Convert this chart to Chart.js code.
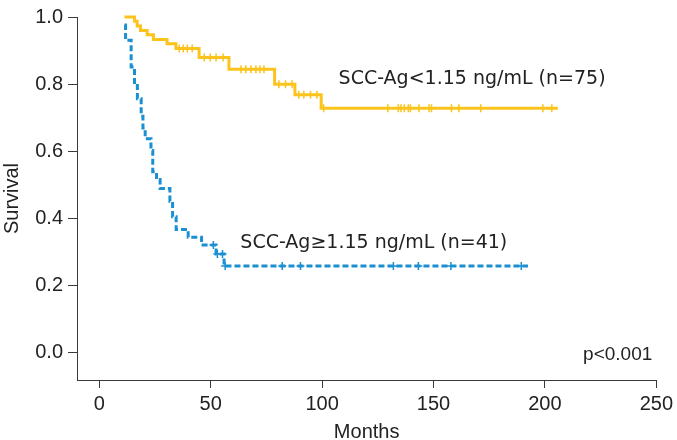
<!DOCTYPE html>
<html><head><meta charset="utf-8">
<script src="https://cdn.jsdelivr.net/npm/chart.js@4.4.1/dist/chart.umd.min.js"></script>
<style>html,body{margin:0;padding:0;background:#fff}#wrap{width:677px;height:440px}</style>
</head><body><div id="wrap"><canvas id="c" width="677" height="440"></canvas></div>
<script>
// Kaplan-Meier step data
const lowT  = [11.3, 15.8, 17.0, 18.5, 21.5, 24.3, 30.4, 34.4, 44.8, 58.2, 78.7, 87.8, 99.6, 205.8];
const lowS  = [1.0, 0.987, 0.973, 0.960, 0.947, 0.933, 0.920, 0.906, 0.879, 0.844, 0.799, 0.768, 0.728, 0.728];
const lowCensorT = [35.9, 37.7, 39.5, 41.7, 47.1, 49.8, 52.4, 55.6, 63.6, 65.8, 68.1, 70.3, 72.1, 73.9,
  80.6, 83.6, 86.5, 89.5, 91.8, 94.8, 97.7, 100.7, 129.5, 134.2, 135.4, 136.9, 138.7, 139.6, 143.5,
  148.0, 149.1, 158.1, 161.4, 171.2, 199.1, 203.1];
const highT = [11.3, 11.8, 14.3, 15.8, 17.1, 18.8, 19.6, 20.6, 23.2, 24.0, 25.7, 27.3, 31.7, 32.9, 34.5, 39.9, 45.9, 52.4, 56.0, 192.4];
const highS = [0.976, 0.931, 0.851, 0.800, 0.756, 0.704, 0.669, 0.637, 0.602, 0.538, 0.515, 0.488, 0.450, 0.404, 0.366, 0.343, 0.320, 0.293, 0.257, 0.257];
const highCensorT = [51.2, 53.0, 55.3, 56.5, 82.1, 90.3, 132.0, 143.2, 157.8, 189.4];
const xTicks = [0, 50, 100, 150, 200, 250];
const yTicks = [0.0, 0.2, 0.4, 0.6, 0.8, 1.0];
const labelLow = 'SCC-Ag<1.15 ng/mL (n=75)';
const labelHigh = 'SCC-Ag\u22651.15 ng/mL (n=41)';
const pText = 'p<0.001';

const YEL = '#FBC31B', BLU = '#1A8FD1', AX = '#3a3a3a';
function stepAt(T, S, t){ let v = S[0]; for (let i=0;i<T.length;i++){ if (T[i] <= t) v = S[i]; } return v; }
const pts = (T,S) => T.map((t,i)=>({x:t,y:S[i]}));
const cens = (C,T,S) => C.map(t=>({x:t,y:stepAt(T,S,t)}));

const annot = {
  id:'annot',
  afterDatasetsDraw(chart){
    const {ctx, scales:{x,y}} = chart;
    ctx.save();
    ctx.fillStyle = '#222';
    ctx.textBaseline = 'alphabetic';
    ctx.font = '19px "DejaVu Sans"';
    ctx.textAlign = 'left';
    ctx.fillText(labelLow, x.getPixelForValue(107.4), y.getPixelForValue(0.80));
    ctx.fillText(labelHigh, x.getPixelForValue(63.3), y.getPixelForValue(0.311));
    ctx.font = '19px "Liberation Sans"';
    ctx.textAlign = 'right';
    ctx.fillText(pText, x.getPixelForValue(248.2), y.getPixelForValue(-0.022));
    ctx.restore();
  }
};

new Chart(document.getElementById('c'), {
  type:'line',
  data:{datasets:[
    {data:pts(lowT,lowS), borderColor:YEL, borderWidth:3, stepped:'before', pointRadius:0, fill:false, clip:false},
    {data:cens(lowCensorT,lowT,lowS), showLine:false, pointStyle:'cross', pointRadius:4, borderColor:YEL, pointBorderWidth:1.5, clip:false},
    {data:pts(highT,highS), borderColor:BLU, borderWidth:3, borderDash:[6,3], stepped:'before', pointRadius:0, fill:false, clip:false},
    {data:cens(highCensorT,highT,highS), showLine:false, pointStyle:'cross', pointRadius:4, borderColor:BLU, pointBorderWidth:1.5, clip:false}
  ]},
  options:{
    responsive:false, animation:false, devicePixelRatio:1,
    layout:{padding:{top:8,right:18,left:0,bottom:0}},
    plugins:{legend:{display:false}, tooltip:{enabled:false}},
    scales:{
      x:{type:'linear', min:-10, max:250,
        afterBuildTicks(s){ s.ticks = xTicks.map(v=>({value:v})); },
        afterFit(s){ s.height = 60; },
        grid:{drawOnChartArea:false, drawTicks:true, tickLength:8, color:AX},
        border:{display:true, color:AX, width:1},
        ticks:{color:'#222', font:{family:'Liberation Sans', size:20}, padding:4, maxRotation:0},
        title:{display:true, text:'Months', color:'#222', font:{family:'Liberation Sans', size:20}, padding:{top:0,bottom:-4}}
      },
      y:{type:'linear', min:-0.083, max:1.0,
        afterBuildTicks(s){ s.ticks = yTicks.map(v=>({value:v})); },
        afterFit(s){ s.width = 77; },
        grid:{drawOnChartArea:false, drawTicks:true, tickLength:9, color:AX},
        border:{display:true, color:AX, width:1},
        ticks:{color:'#222', font:{family:'Liberation Sans', size:20}, padding:5, callback:v=>v.toFixed(1)},
        title:{display:true, text:'Survival', color:'#222', font:{family:'Liberation Sans', size:20}, padding:{top:0,bottom:0}}
      }
    }
  },
  plugins:[annot]
});
</script></body></html>
